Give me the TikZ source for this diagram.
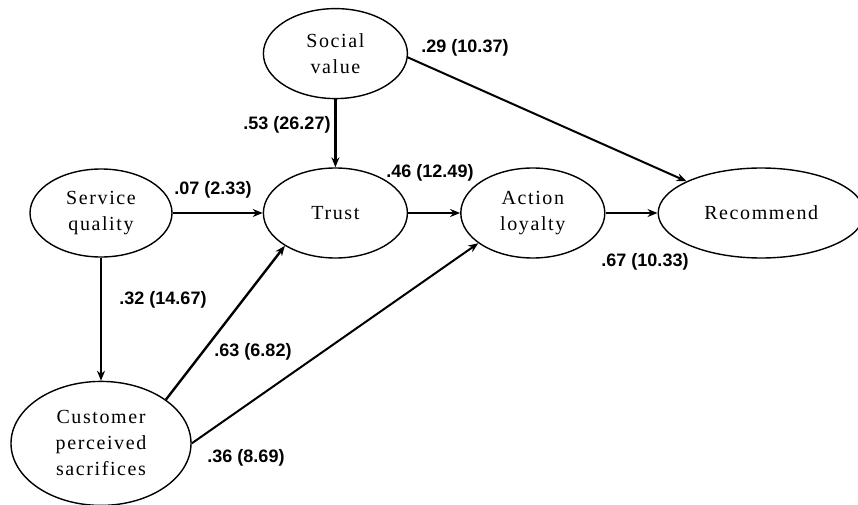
\documentclass[tikz,border=0pt]{standalone}
\usepackage{fontspec}
\setmainfont{Liberation Serif}
\newfontfamily\constructfont[LetterSpace=8]{Liberation Serif}
\newfontfamily\coeffont{Liberation Sans}
\usetikzlibrary{arrows.meta,positioning,shapes.geometric}
\tikzset{
    %Define standard arrow tip
    >={Stealth[length=10pt,width=8pt]},
    %Define style for constructs
    construct/.style={
           ellipse,
           draw=black, line width=1.4pt,
           inner sep=0pt,
           minimum width=144pt,
           minimum height=90pt,
           font=\constructfont\fontsize{20}{26}\selectfont,
           align=center},
    %Define style for path coefficients
    coef/.style={
           inner sep=0pt,
           font=\coeffont\bfseries\fontsize{18}{20}\selectfont},
    % Define arrow style
    pth/.style={
           ->,
           line width=2.4pt}
}
\begin{document}
\begin{tikzpicture}[x=1pt,y=1pt]
\useasboundingbox (0,0) rectangle (858,-505);
 %constructs
\node[construct, minimum width=142pt, minimum height=88pt] (sq) at (101,-213) {Service\\quality};
\node[construct, right=90pt of sq] (trust) {Trust};
\node[construct, right=52pt of trust] (action) {Action\\loyalty};
\node[construct, right=52pt of action, minimum width=206pt] (rec) {Recommend};
\node[construct, above=68pt of trust] (social) {Social\\value};
\node[construct, below=123pt of sq, minimum width=180pt, minimum height=124pt] (cps) {Customer\\perceived\\sacrifices};

 %paths
\path
    (social) edge[pth] (trust)
    (sq) edge[pth] (trust)
    (trust) edge[pth] (action)
    (action) edge[pth] (rec)
    (social.-3) edge[pth, line width=2pt] (rec.157)
    (sq) edge[pth] (cps)
    (cps.34) edge[pth] (trust.213)
    (cps.east) edge[pth, line width=2pt] (action.209);

 %coefficients
\node[coef] (c29) at (465,-48) {.29 (10.37)};
\node[coef] (c53) at (287,-125) {.53 (26.27)};
\node[coef] (c46) at (430,-173) {.46 (12.49)};
\node[coef] (c07) at (213,-190) {.07 (2.33)};
\node[coef] (c67) at (645,-262) {.67 (10.33)};
\node[coef] (c32) at (163,-300) {.32 (14.67)};
\node[coef] (c63) at (253,-352) {.63 (6.82)};
\node[coef] (c36) at (246,-458) {.36 (8.69)};
\end{tikzpicture}
\end{document}
